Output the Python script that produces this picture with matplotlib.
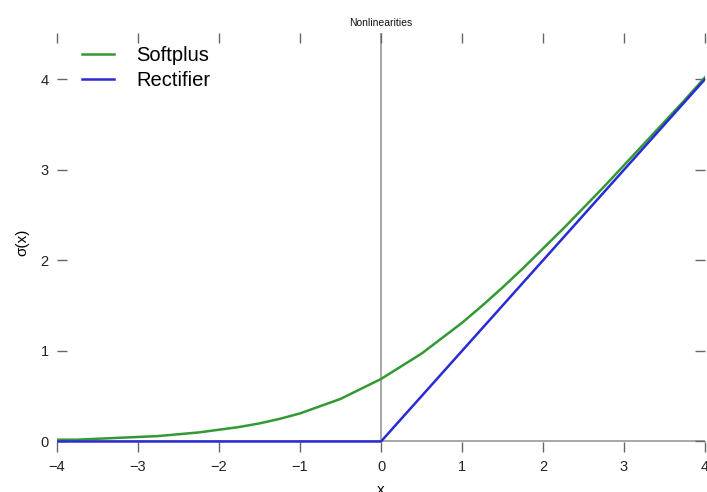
import numpy as np
import matplotlib
matplotlib.use("Agg")
from matplotlib import pyplot as plt

plt.rcParams['font.family'] = ['Liberation Sans', 'DejaVu Sans']

# values
x_soft = [-4.0, -3.75, -3.5, -3.25, -3.0, -2.75, -2.5, -2.25, -2.0,
          -1.75, -1.5, -1.25, -1.0, -0.75, -0.5, -0.25, 0.0,
          0.25, 0.5, 0.75, 1.0, 1.25, 1.5, 1.75, 2.0,
          2.25, 2.5, 2.75, 3.0, 3.25, 3.5, 3.75, 4.0]
y_soft = [0.02, 0.02, 0.03, 0.04, 0.05, 0.06, 0.08, 0.10, 0.13,
          0.16, 0.20, 0.25, 0.31, 0.39, 0.47, 0.58, 0.69,
          0.83, 0.97, 1.14, 1.31, 1.50, 1.70, 1.91, 2.13,
          2.35, 2.58, 2.81, 3.05, 3.29, 3.53, 3.77, 4.02]
x_relu = [-4.0, 0.0, 4.0]
y_relu = [0.0, 0.0, 4.0]
xticks = [-4, -3, -2, -1, 0, 1, 2, 3, 4]
yticks = [0, 1, 2, 3, 4]

fig = plt.figure(figsize=(7.07, 4.92), dpi=100)
W, H = 707, 492
ax = fig.add_axes([57/W, 1-452/H, (705-57)/W, (452-33)/H])

ax.hlines(0, -4, 4, color="#a0a0a0", lw=1.3, zorder=1)
ax.vlines(0, 0, 4.51, color="#a0a0a0", lw=1.3, zorder=1)

ax.plot(x_soft, y_soft, color="#339933", lw=1.8, label="Softplus", zorder=3)
ax.plot(x_relu, y_relu, color="#2a2ad6", lw=1.8, label="Rectifier", zorder=4)

ax.set_xlim(-4, 4)
ax.set_ylim(-0.116, 4.51)
for s in ax.spines.values():
    s.set_visible(False)

ax.set_xticks(xticks)
ax.set_yticks(yticks)
ax.set_xticklabels([str(t).replace("-", "\u2212") for t in xticks])
ax.tick_params(direction="in", length=7, width=1.0, color="#666666",
               labelcolor="#222222", labelsize=10.5,
               top=True, right=True, bottom=True, left=True, pad=6)

ax.set_title("Nonlinearities", fontsize=7.5, pad=5, color="#111111")
ax.set_xlabel("x", fontsize=11, labelpad=6)
ax.set_ylabel("\u03c3(x)", fontsize=11, labelpad=8)

ax.legend(loc="upper left", bbox_to_anchor=(82/W, 1-46/H),
          bbox_transform=fig.transFigure, frameon=False, fontsize=14.5,
          handlelength=1.6, handletextpad=1.1, borderpad=0,
          borderaxespad=0, labelspacing=0.3)

fig.savefig("out.png", dpi=100)
